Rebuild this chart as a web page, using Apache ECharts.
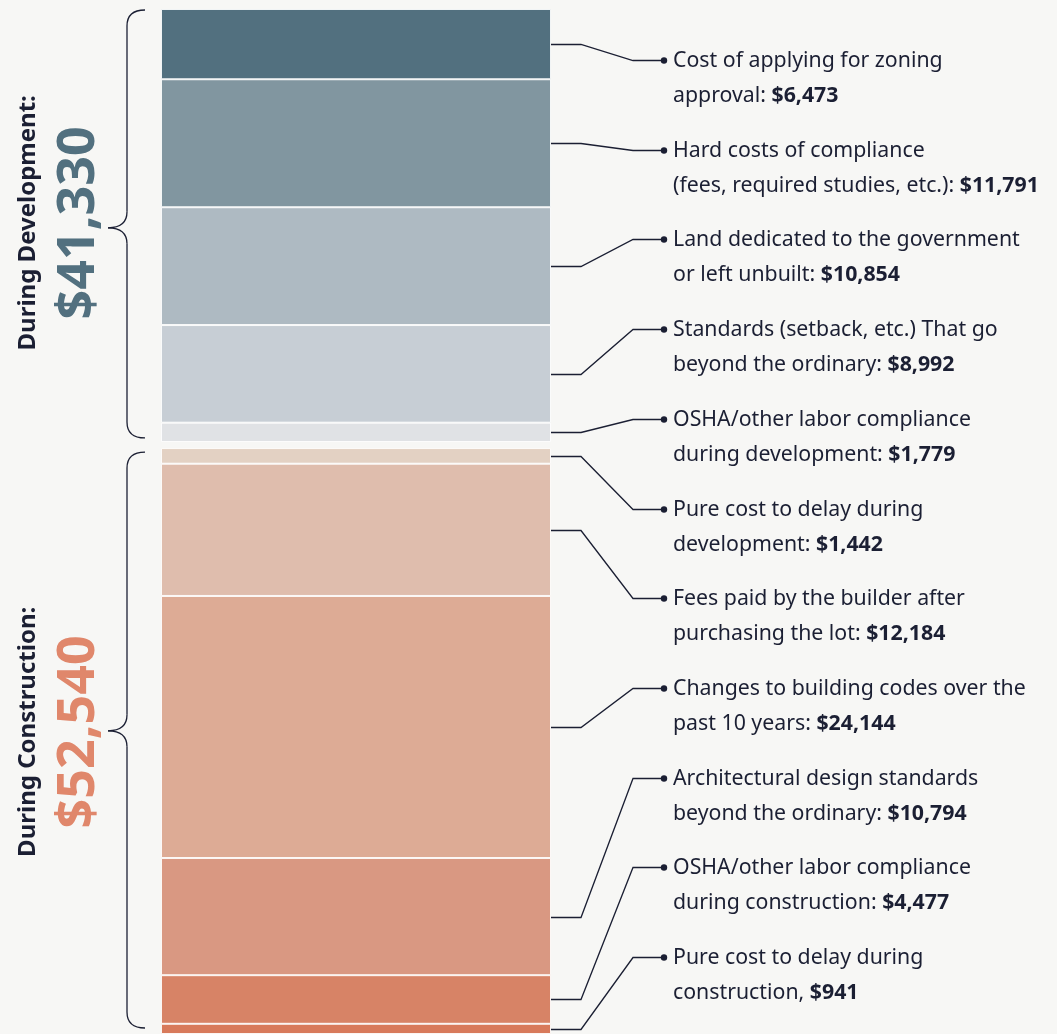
<!DOCTYPE html>
<html>
<head>
<meta charset="utf-8">
<script src="https://cdn.jsdelivr.net/npm/echarts@6/dist/echarts.min.js"></script>
<style>
  html, body { margin: 0; padding: 0; background: #f7f7f5; }
  #chart { width: 1057px; height: 1034px; }
</style>
</head>
<body>
<div id="chart"></div>
<script>
// segment values, top to bottom
const devValues = [6473, 11791, 10854, 8992, 1779];
const conValues = [1442, 12184, 24144, 10794, 4477, 941];
const gapValue = 560;

const devColors = ["#52707f", "#8196a0", "#aebac2", "#c7ced5", "#e0e2e5"];
const conColors = ["#e3d1c3", "#dfbdad", "#ddab95", "#d99882", "#d78366", "#d87a5b"];

// label text: [first line, second line, bold amount]
const devLabels = [
  ["Cost of applying for zoning", "approval: ", "$6,473"],
  ["Hard costs of compliance", "(fees, required studies, etc.): ", "$11,791"],
  ["Land dedicated to the government", "or left unbuilt: ", "$10,854"],
  ["Standards (setback, etc.) That go", "beyond the ordinary: ", "$8,992"],
  ["OSHA/other labor compliance", "during development: ", "$1,779"],
];
const conLabels = [
  ["Pure cost to delay during", "development: ", "$1,442"],
  ["Fees paid by the builder after", "purchasing the lot: ", "$12,184"],
  ["Changes to building codes over the", "past 10 years: ", "$24,144"],
  ["Architectural design standards", "beyond the ordinary: ", "$10,794"],
  ["OSHA/other labor compliance", "during construction: ", "$4,477"],
  ["Pure cost to delay during", "construction, ", "$941"],
];

const groupTitles = ["During Development:", "During Construction:"];
const groupTotals = ["$41,330", "$52,540"];
const groupTotalColors = ["#52707f", "#e0876b"];

const FONT = "'Noto Sans', 'Open Sans', sans-serif";
const INK = "#1b1f33";

var chartDom = document.getElementById("chart");
var myChart = echarts.init(chartDom, null, { renderer: "canvas" });

const devSum = devValues.reduce((a, b) => a + b, 0);
const conSum = conValues.reduce((a, b) => a + b, 0);
const total = devSum + gapValue + conSum;

function segSeries(value, color) {
  return {
    type: "bar",
    stack: "total",
    barWidth: "100%",
    data: [value],
    silent: true,
    itemStyle: {
      color: color,
      borderColor: "rgba(255,255,255,0.85)",
      borderWidth: 1,
    },
  };
}

var series = [];
devValues.forEach((v, i) => series.push(segSeries(v, devColors[i])));
series.push({
  type: "bar",
  stack: "total",
  barWidth: "100%",
  data: [gapValue],
  silent: true,
  itemStyle: { color: "transparent" },
});
conValues.forEach((v, i) => series.push(segSeries(v, conColors[i])));

var option = {
  backgroundColor: "#f7f7f5",
  animation: false,
  grid: { left: 161, top: 9, width: 390, height: 1025 },
  xAxis: { type: "category", data: ["cost"], show: false },
  yAxis: { type: "value", inverse: true, min: 0, max: total, show: false },
  series: series,
};
myChart.setOption(option);

// annotations built from the axis scale
function yPix(v) {
  return myChart.convertToPixel({ yAxisIndex: 0 }, v);
}

var graphic = [];
var barRight = 161 + 390;
var allValues = devValues.concat(conValues);
var allLabels = devLabels.concat(conLabels);
var starts = [];
var acc = 0;
devValues.forEach((v) => { starts.push(acc); acc += v; });
acc += gapValue;
conValues.forEach((v) => { starts.push(acc); acc += v; });

var lineStyle = { stroke: INK, lineWidth: 1.3, fill: null };

allValues.forEach((v, i) => {
  var segY = Math.round(yPix(starts[i] + v / 2)) + 0.5;
  var labY = Math.round(60 + i * 89.7) + 0.5;
  graphic.push({
    type: "polyline",
    silent: true,
    shape: { points: [[barRight, segY], [581, segY], [633, labY], [663, labY]] },
    style: lineStyle,
  });
  graphic.push({
    type: "circle",
    silent: true,
    shape: { cx: 664, cy: labY, r: 3.2 },
    style: { fill: INK },
  });
  var lab = allLabels[i];
  graphic.push({
    type: "text",
    silent: true,
    x: 673,
    y: labY - 17.5,
    style: {
      text: "{n|" + lab[0] + "}\n{n|" + lab[1] + "}{b|" + lab[2] + "}",
      rich: {
        n: { fontSize: 21.3, fontFamily: FONT, fill: INK, lineHeight: 35 },
        b: { fontSize: 21.3, fontFamily: FONT, fontWeight: "bold", fill: INK, lineHeight: 35 },
      },
      align: "left",
      verticalAlign: "top",
    },
  });
});

// curly brace out of curves and lines
function braceParts(top, bottom, tip) {
  var x0 = 145, xm = 127, xt = 108, r = 16;
  return [
    { type: "bezierCurve", shape: { x1: x0, y1: top, cpx1: xm, cpy1: top, x2: xm, y2: top + r } },
    { type: "line", shape: { x1: xm, y1: top + r, x2: xm, y2: tip - r } },
    { type: "bezierCurve", shape: { x1: xm, y1: tip - r, cpx1: xm, cpy1: tip, x2: xt, y2: tip } },
    { type: "bezierCurve", shape: { x1: xt, y1: tip, cpx1: xm, cpy1: tip, x2: xm, y2: tip + r } },
    { type: "line", shape: { x1: xm, y1: tip + r, x2: xm, y2: bottom - r } },
    { type: "bezierCurve", shape: { x1: xm, y1: bottom - r, cpx1: xm, cpy1: bottom, x2: x0, y2: bottom } },
  ].map((p) => Object.assign(p, { silent: true, style: lineStyle }));
}

var groups = [
  { top: yPix(0) + 1, bottom: yPix(devSum) - 4, tipFrac: 0.509, textShift: -5 },
  { top: yPix(devSum + gapValue) + 4, bottom: yPix(total) - 6, tipFrac: 0.484, textShift: 1 },
];
groups.forEach((g, i) => {
  var tip = g.top + (g.bottom - g.top) * g.tipFrac;
  var mid = tip + g.textShift;
  braceParts(g.top, g.bottom, tip).forEach((p) => graphic.push(p));
  graphic.push({
    type: "text",
    silent: true,
    x: 28,
    y: mid,
    rotation: Math.PI / 2,
    style: {
      text: groupTitles[i],
      font: "bold 24px " + FONT,
      fill: INK,
      align: "center",
      verticalAlign: "middle",
    },
  });
  graphic.push({
    type: "text",
    silent: true,
    x: 79,
    y: mid,
    rotation: Math.PI / 2,
    style: {
      text: groupTotals[i],
      font: "bold 52px " + FONT,
      fill: groupTotalColors[i],
      align: "center",
      verticalAlign: "middle",
    },
  });
});

myChart.setOption({ graphic: graphic });

window.addEventListener("resize", function() {
  myChart.resize();
});
</script>
</body>
</html>
